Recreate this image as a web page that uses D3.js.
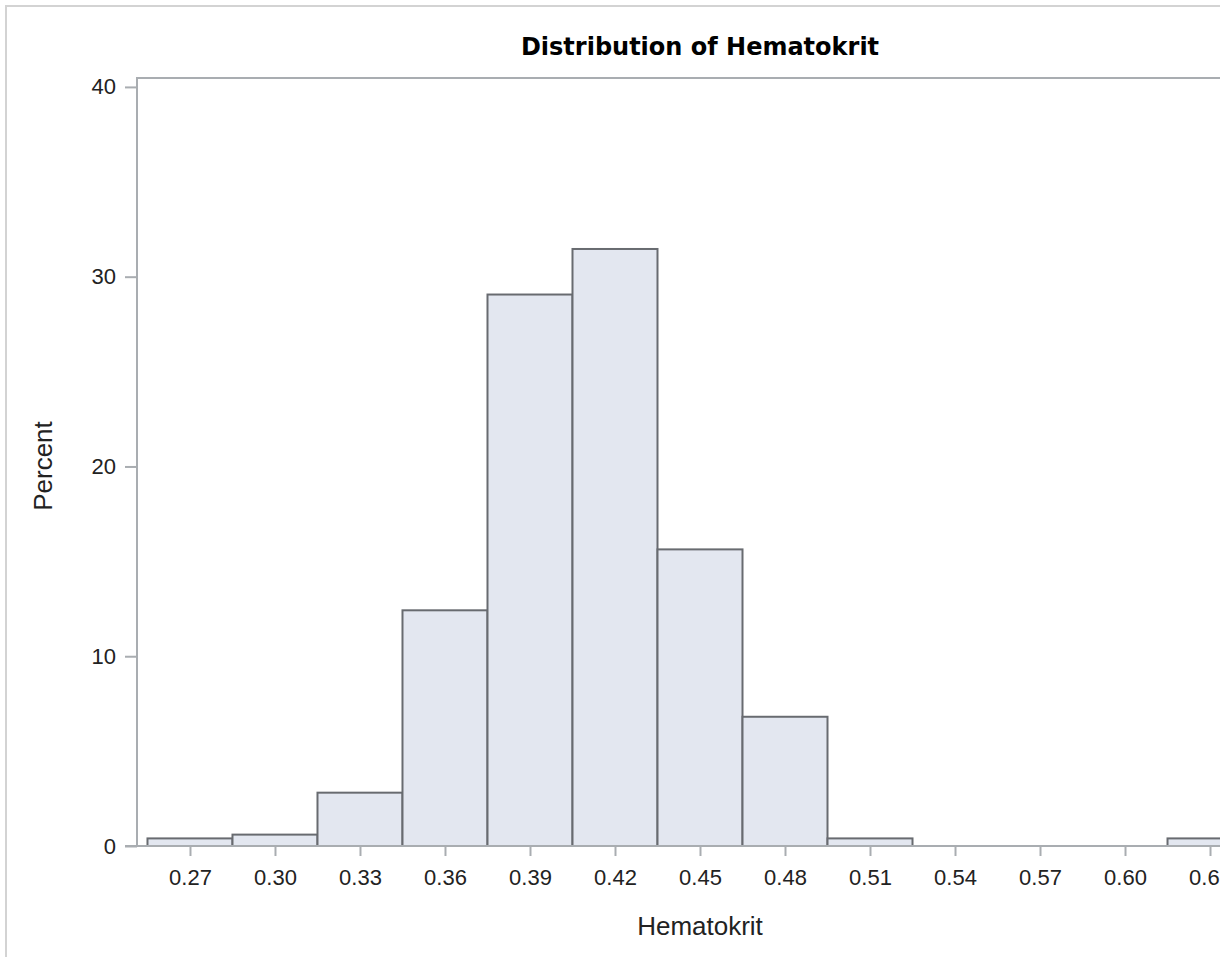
<!DOCTYPE html>
<html>
<head>
<meta charset="utf-8">
<script src="https://cdn.jsdelivr.net/npm/d3@7"></script>
<style>
  html, body { margin: 0; padding: 0; background: #fff; }
  svg { display: block; }
</style>
</head>
<body>
<svg id="chart" width="1229" height="957"></svg>
<script>
// ---- data ----
const binCenters = [0.27, 0.30, 0.33, 0.36, 0.39, 0.42, 0.45, 0.48, 0.51, 0.54, 0.57, 0.60, 0.63];
const percents   = [0.40, 0.60, 2.81, 12.42, 29.06, 31.46, 15.63, 6.81, 0.40, 0, 0, 0, 0.40];
const binWidth = 0.03;
const xTickValues = [0.27, 0.30, 0.33, 0.36, 0.39, 0.42, 0.45, 0.48, 0.51, 0.54, 0.57, 0.60, 0.63];
const yTickValues = [0, 10, 20, 30, 40];
const titleText = "Distribution of Hematokrit";
const xLabel = "Hematokrit";
const yLabel = "Percent";

const svg = d3.select("#chart");
const W = 1229, H = 957;
const visibleRight = 1220;

const defs = svg.append("defs");
defs.append("clipPath").attr("id", "crop")
  .append("rect").attr("x", 0).attr("y", 0).attr("width", visibleRight).attr("height", H);

const root = svg.append("g").attr("clip-path", "url(#crop)");

// outer border
root.append("path")
  .attr("d", `M6,${H + 5} L6,6 L${W + 50},6`)
  .attr("fill", "none").attr("stroke", "#d3d3d3").attr("stroke-width", 2);

const plot = { left: 137, right: 1263, top: 78, bottom: 846 };

const x = d3.scaleLinear().domain([0.2513, 0.6487]).range([plot.left, plot.right]);
const y = d3.scaleLinear().domain([0, 40.47]).range([plot.bottom, plot.top]);

const font = "'Liberation Sans', Arial, Helvetica, sans-serif";

// title
root.append("text")
  .attr("x", (plot.left + plot.right) / 2).attr("y", 47)
  .attr("text-anchor", "middle").attr("dominant-baseline", "central")
  .attr("font-family", "'DejaVu Sans', Verdana, sans-serif")
  .attr("font-weight", "bold").attr("font-size", 24).attr("fill", "#000")
  .text(titleText);

// bars
root.append("g").selectAll("rect")
  .data(binCenters)
  .join("rect")
  .attr("x", (d) => x(d - binWidth / 2))
  .attr("width", (d) => x(d + binWidth / 2) - x(d - binWidth / 2))
  .attr("y", (d, i) => y(percents[i]))
  .attr("height", (d, i) => y(0) - y(percents[i]))
  .attr("fill", "#e3e7f0")
  .attr("stroke", "#686b70")
  .attr("stroke-width", 2);

// frame (top & left)
const frame = root.append("g").attr("fill", "none").attr("stroke", "#a9adb1").attr("stroke-width", 2);
frame.append("path").attr("d", `M${plot.left},${plot.bottom} L${plot.left},${plot.top} L${plot.right},${plot.top} L${plot.right},${plot.bottom}`);

// x axis
const xAxis = d3.axisBottom(x).tickValues(xTickValues).tickFormat(d3.format(".2f")).tickSize(10).tickPadding(13);
const gx = root.append("g").attr("transform", `translate(0,${plot.bottom})`).call(xAxis);
gx.select(".domain").attr("stroke", "#a9adb1").attr("stroke-width", 2)
  .attr("d", `M${plot.left - 12},0H${plot.right}`);
gx.selectAll(".tick line").attr("stroke", "#a9adb1").attr("stroke-width", 2);
gx.selectAll(".tick text").attr("font-family", font).attr("font-size", 22).attr("fill", "#222");

// y axis
const yAxis = d3.axisLeft(y).tickValues(yTickValues).tickFormat(d3.format("d")).tickSize(12).tickPadding(9);
const gy = root.append("g").attr("transform", `translate(${plot.left},0)`).call(yAxis);
gy.select(".domain").remove();
gy.selectAll(".tick line").attr("stroke", "#a9adb1").attr("stroke-width", 2);
gy.selectAll(".tick text").attr("font-family", font).attr("font-size", 22).attr("fill", "#222");

// axis labels
root.append("text")
  .attr("x", (plot.left + plot.right) / 2).attr("y", 926)
  .attr("text-anchor", "middle").attr("dominant-baseline", "central")
  .attr("font-family", font).attr("font-size", 26).attr("fill", "#222")
  .text(xLabel);

root.append("text")
  .attr("transform", `translate(43,${(plot.top + plot.bottom) / 2 + 4}) rotate(-90)`)
  .attr("text-anchor", "middle").attr("dominant-baseline", "central")
  .attr("font-family", font).attr("font-size", 26).attr("fill", "#222")
  .text(yLabel);
</script>
</body>
</html>
